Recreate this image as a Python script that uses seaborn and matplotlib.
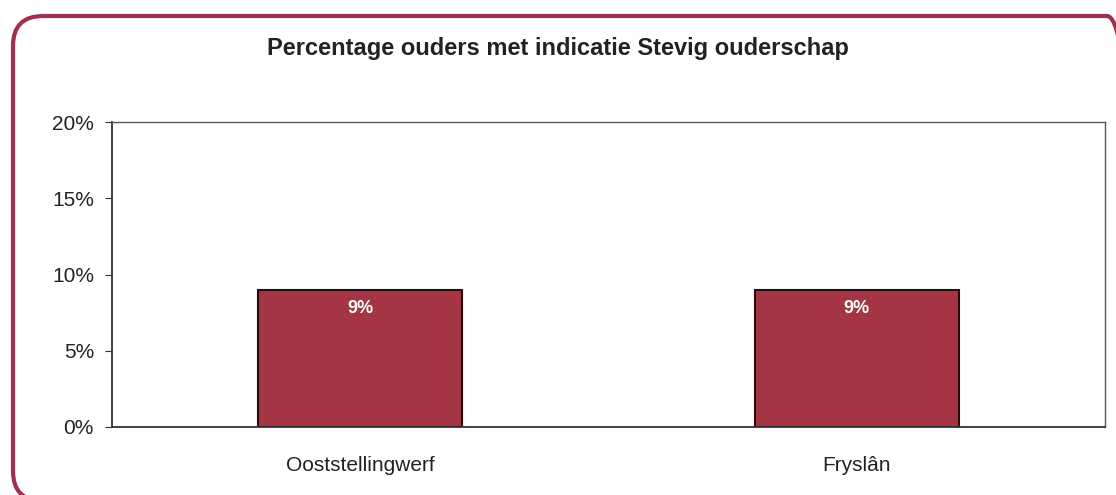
import matplotlib
matplotlib.use("Agg")
import matplotlib.pyplot as plt
import seaborn as sns
import pandas as pd
from matplotlib.patches import FancyBboxPatch
from matplotlib.ticker import PercentFormatter

# Data
gemeenten = ["Ooststellingwerf", "Fryslân"]
percentages = [9, 9]
y_ticks = [0, 5, 10, 15, 20]

df = pd.DataFrame({"Gebied": gemeenten, "Percentage": percentages})

sns.set_style("white")
plt.rcParams["font.family"] = ["Liberation Sans", "DejaVu Sans"]

fig = plt.figure(figsize=(11.16, 4.95), dpi=100)
ax = fig.add_axes([112 / 1116, 1 - 427 / 495, 993 / 1116, 305 / 495])

# rounded frame around the chart (in inches, right and bottom edges run off the image)
frame = FancyBboxPatch((0.13, -0.06), 11.24, 4.85,
                       boxstyle="round,pad=0,rounding_size=0.3",
                       transform=fig.dpi_scale_trans, fill=False,
                       edgecolor="#a0304e", linewidth=3, clip_on=False)
fig.patches.append(frame)

sns.barplot(data=df, x="Gebied", y="Percentage", color="#a53545",
            width=0.41, edgecolor="#2a0a10", linewidth=1.5, saturation=1, ax=ax)

for i, v in enumerate(percentages):
    ax.text(i, v - 1.2, f"{v}%", ha="center", va="center", color="white",
            fontsize=13, fontweight="bold")

ax.set_ylim(0, 20)
ax.set_xlim(-0.5, 1.5)
ax.set_yticks(y_ticks)
ax.yaxis.set_major_formatter(PercentFormatter(decimals=0))
ax.set_xticks([0.5], minor=True)
ax.tick_params(axis="x", which="major", length=0, pad=21, labelsize=15, labelcolor="#222222")
ax.tick_params(axis="x", which="minor", length=5, direction="out", color="#333333")
ax.tick_params(axis="y", length=5, direction="out", color="#333333", labelsize=15,
               labelcolor="#222222", pad=8, left=True)
ax.set_xlabel("")
ax.set_ylabel("")
for side in ["left", "bottom"]:
    ax.spines[side].set_color("#333333")
    ax.spines[side].set_linewidth(1.3)
for side in ["top", "right"]:
    ax.spines[side].set_visible(True)
    ax.spines[side].set_color("#555555")
    ax.spines[side].set_linewidth(1.0)

fig.text(0.5, 1 - 48 / 495, "Percentage ouders met indicatie Stevig ouderschap",
         ha="center", va="center", fontsize=17, fontweight="bold", color="#222222")

fig.savefig("out.png", dpi=100, facecolor="white")
